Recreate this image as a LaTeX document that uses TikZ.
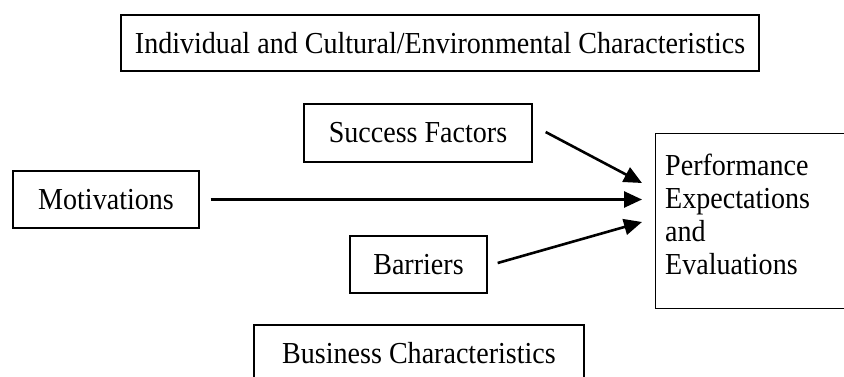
\documentclass[tikz,border=0pt]{standalone}
\usepackage{fontspec}
\setmainfont[FakeStretch=0.92]{Liberation Serif}
\usetikzlibrary{arrows.meta,calc}
\begin{document}
\begin{tikzpicture}[x=1pt,y=-1pt,
  txt/.style={inner sep=0pt, font=\fontsize{30.5}{33}\selectfont},
  box/.style={txt, draw, line width=1.3pt},
  conn/.style={line width=2.6pt, -{Triangle[length=18pt,width=16pt]}}]
\useasboundingbox (0,0) rectangle (844,377);
\clip (0,0) rectangle (844,377);
\node[box, minimum width=638, minimum height=56] (ind) at (440,43) {Individual and Cultural/Environmental Characteristics};
\node[box, minimum width=228, minimum height=58] (sf) at (418,133) {Success Factors};
\node[box, minimum width=186, minimum height=57] (motiv) at (106,199.5) {Motivations};
\node[box, minimum width=137, minimum height=57] (barr) at (418.5,264.5) {Barriers};
\node[box, minimum width=330, minimum height=56] (bus) at (419,353) {Business Characteristics};
\node[box, minimum width=215, minimum height=175, anchor=north west] (perf) at (655,133) {};
\node[txt, align=left, anchor=north west] (perftext) at ($(perf.north west)+(10,20.5)$) {Performance\\Expectations\\and\\Evaluations};
\coordinate (tipS) at ($(perf.north west)+(-13,50)$);
\coordinate (tipM) at ($(motiv.east -| perf.west)+(-13,0)$);
\coordinate (tipB) at ($(perf.north west)+(-13,89)$);
\draw[conn] ($(sf.east)+(13,-1)$) -- (tipS);
\draw[conn] ($(motiv.east)+(11,0)$) -- (tipM);
\draw[conn] ($(barr.east)+(10,-1.5)$) -- (tipB);
\end{tikzpicture}
\end{document}
